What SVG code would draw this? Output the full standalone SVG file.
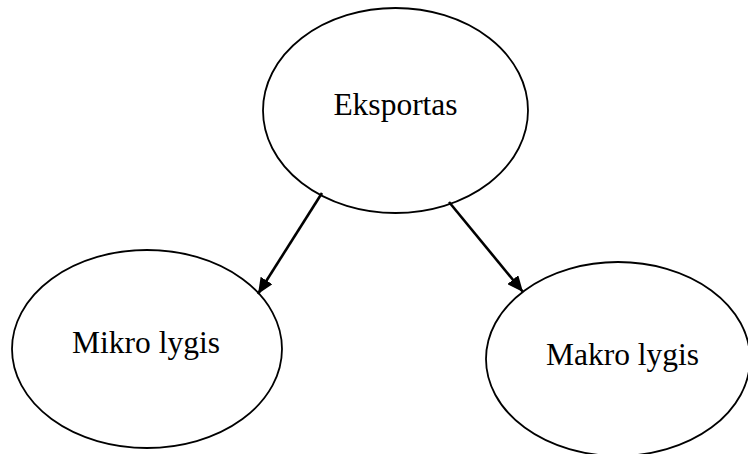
<svg xmlns="http://www.w3.org/2000/svg" width="748" height="454" viewBox="0 0 748 454">
<style>
.node ellipse{fill:#fff;stroke:#000;stroke-width:1.8}
.node text{font-family:"Liberation Serif","Times New Roman",serif;font-size:31.5px;fill:#000;text-anchor:middle}
.conn line{stroke:#000;stroke-width:2.6}
</style>
<defs>
<marker id="ah" viewBox="0 0 16 14" refX="16" refY="7" markerWidth="16" markerHeight="14" markerUnits="userSpaceOnUse" orient="auto">
<path d="M0,0 L16,7 L0,14 z" fill="#000"/>
</marker>
</defs>
<rect width="748" height="454" fill="#fff"/>
<g id="eksportas" class="node">
<ellipse cx="395.5" cy="110.5" rx="132.5" ry="102.5"/>
<text x="395.5" y="115">Eksportas</text>
</g>
<g id="mikro" class="node">
<ellipse cx="147" cy="349" rx="135" ry="99"/>
<text x="146" y="353">Mikro lygis</text>
</g>
<g id="makro" class="node">
<ellipse cx="618" cy="359" rx="132" ry="97"/>
<text x="622.5" y="365">Makro lygis</text>
</g>
<g id="connectors" class="conn">
<line x1="322" y1="193" x2="258" y2="294" marker-end="url(#ah)"/>
<line x1="449" y1="202" x2="523" y2="292" marker-end="url(#ah)"/>
</g>
</svg>
